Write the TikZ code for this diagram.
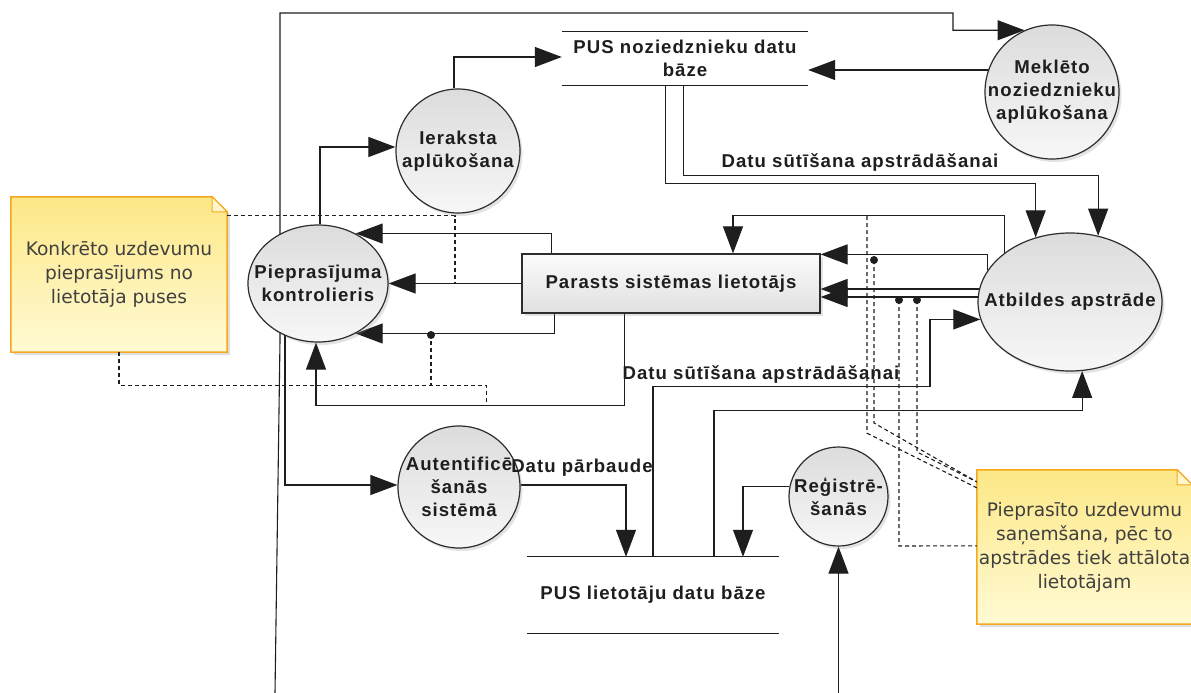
\documentclass[tikz,border=0pt]{standalone}
\usepackage{fontspec}
\usetikzlibrary{arrows.meta,calc,shadows,shapes.geometric}
\newfontfamily\lblfont[LetterSpace=5.5]{Liberation Sans}
\newfontfamily\notefont{DejaVu Sans}
\pgfdeclarelayer{bg}
\pgfsetlayers{bg,main}
\definecolor{ink}{RGB}{30,30,30}
\definecolor{edge}{RGB}{45,45,45}
\definecolor{procTop}{RGB}{220,220,220}
\definecolor{procBot}{RGB}{247,247,247}
\definecolor{noteTop}{RGB}{253,232,135}
\definecolor{noteMid}{RGB}{255,222,70}
\definecolor{noteBot}{RGB}{255,250,212}
\definecolor{noteEdge}{RGB}{245,168,30}
\definecolor{foldc}{RGB}{255,246,205}
\tikzset{
  lbl/.style={font=\lblfont\bfseries\fontsize{18.6}{23}\selectfont, text=ink, align=center},
  proc/.style={circle, draw=edge, line width=1.2pt, top color=procTop, bottom color=procBot,
    drop shadow={shadow xshift=2.5pt, shadow yshift=-3pt, opacity=.22}, inner sep=0pt},
  eproc/.style={ellipse, draw=edge, line width=1.2pt, top color=procTop, bottom color=procBot,
    drop shadow={shadow xshift=2.5pt, shadow yshift=-3pt, opacity=.22}, inner sep=0pt},
  entity/.style={rectangle, draw=edge, line width=1.2pt, top color=gray!3, bottom color=gray!24,
    drop shadow={shadow xshift=2.5pt, shadow yshift=-3pt, opacity=.22}, lbl},
  store/.style={rectangle, inner sep=0pt, lbl},
  storeline/.style={draw=ink, line width=1.1pt},
  flow/.style={draw=ink, line width=1.1pt, -{Triangle[length=27pt,width=20pt]}},
  flowlbl/.style={lbl, inner sep=0pt},
  link/.style={draw=ink, line width=1.1pt, dash pattern=on 4pt off 3pt},
  notetxt/.style={font=\notefont\fontsize{18.6}{24}\selectfont, text=ink!85, align=center, inner sep=0pt},
  notebody/.style={draw=noteEdge, line width=1.5pt, top color=noteTop, middle color=noteMid, bottom color=noteBot,
    drop shadow={shadow xshift=3pt, shadow yshift=-3pt, opacity=.25}},
  foldbody/.style={fill=foldc, draw=noteEdge, line width=1pt},
  dotmark/.style={circle, fill=ink, inner sep=0pt, minimum size=8pt}
}
\begin{document}
\begin{tikzpicture}[x=1pt,y=-1pt]
\useasboundingbox (0,0) rectangle (1191,693);

% ---- nodes ----
\node[store, minimum width=246, minimum height=53] (pusn) at (685,58.5) {PUS noziedznieku datu\\bāze};
\node[store, minimum width=252, minimum height=76] (pusl) at (653,595) {PUS lietotāju datu bāze};
\draw[storeline] (pusn.north west) -- (pusn.north east) (pusn.south west) -- (pusn.south east);
\draw[storeline] (pusl.north west) -- (pusl.north east) (pusl.south west) -- (pusl.south east);

\node[proc, minimum size=134, label={[lbl]center:{Meklēto\\noziedznieku\\aplūkošana}}] (meklet) at (1052,92) {};
\node[proc, minimum size=124, label={[lbl]center:{Ieraksta\\aplūkošana}}] (ieraksta) at (458,151) {};
\node[eproc, minimum width=140, minimum height=117, label={[lbl]center:{Pieprasījuma\\kontrolieris}}] (ctrl) at (318,283.5) {};
\node[entity, minimum width=298, minimum height=59] (parasts) at (671,283.5) {Parasts sistēmas lietotājs};
\node[eproc, minimum width=184, minimum height=138, label={[lbl]center:{Atbildes apstrāde}}] (atbildes) at (1070,302) {};
\node[proc, minimum size=122, label={[lbl]center:{Autentificē\\šanās\\sistēmā}}] (autent) at (459,487) {};
\node[proc, minimum size=99, label={[lbl]center:{Reģistrē-\\šanās}}] (regis) at (838.5,496.5) {};

\node[notetxt, minimum width=216, minimum height=155] (note1) at (119,274.5) {Konkrēto uzdevumu\\pieprasījums no\\lietotāja puses};
\node[notetxt, minimum width=215, minimum height=154] (note2) at (1084.5,547) {Pieprasīto uzdevumu\\saņemšana, pēc to\\apstrādes tiek attālota\\lietotājam};

\node[flowlbl] (lbl1) at (860,162) {Datu sūtīšana apstrādāšanai};
\node[flowlbl] (lbl2) at (761,374) {Datu sūtīšana apstrādāšanai};
\node[flowlbl] (lbl3) at (582,468) {Datu pārbaude};

\node[dotmark] (d1) at (431,335) {};
\node[dotmark] (d2) at (874,260) {};
\node[dotmark] (d3) at (899,300) {};
\node[dotmark] (d4) at (917,300) {};

\coordinate (msrc) at (275,693);
\coordinate (rsrc) at (838.5,693);
\coordinate (r0) at (867,216.2);
\coordinate (m1) at ($(ctrl.east)!0.5!(parasts.west)$);

\begin{pgfonlayer}{bg}
\fill[white] (0,0) rectangle (1191,693);

% note bodies
\path[notebody] (note1.north west) -- ($(note1.north east)+(-15,0)$) -- ($(note1.north east)+(0,15)$) -- (note1.south east) -- (note1.south west) -- cycle;
\path[foldbody] ($(note1.north east)+(-15,0)$) -- ($(note1.north east)+(-15,15)$) -- ($(note1.north east)+(0,15)$) -- cycle;
\path[notebody] (note2.north west) -- ($(note2.north east)+(-15,0)$) -- ($(note2.north east)+(0,15)$) -- (note2.south east) -- (note2.south west) -- cycle;
\path[foldbody] ($(note2.north east)+(-15,0)$) -- ($(note2.north east)+(-15,15)$) -- ($(note2.north east)+(0,15)$) -- cycle;

% flows
\draw[flow] (msrc) -- ++(5,-353) -- ++(0,-327) -- ++(673,0) |- (meklet.114.4);
\draw[flow] ($(meklet.center)+(0,-22)$) -- ($(pusn.east)+(0,11.5)$);
\draw[flow] ($(ieraksta.north)+(-4,0)$) |- ($(pusn.west)+(0,-1.5)$);
\draw[flow] ($(ctrl.north)+(2,0)$) |- ($(ieraksta.west)+(0,-4)$);
\draw[flow] ($(pusn.south west)+(104,0)$) -- ++(0,98) -| (atbildes.118.8);
\draw[flow] ($(pusn.south west)+(122,0)$) -- ++(0,90) -| (atbildes.67.7);
\draw[flow] (atbildes.143.1) -- ++(0,-37) -| ($(parasts.north)+(62,0)$);
\draw[flow] (atbildes.159.3) |- ($(parasts.north east)+(0,1)$);
\draw[flow] ($(atbildes.west)+(3,-13)$) -- ($(parasts.east)+(0,5.5)$);
\draw[flow] ($(atbildes.west)+(3,-5)$) -- ($(parasts.east)+(0,13.5)$);
\draw[flow] (pusl.north) -- ++(0,-170) -- ++(277,0) |- (atbildes.191.5);
\draw[flow] ($(pusl.north)+(61,0)$) -- ++(0,-146) -| (atbildes.-80);
\draw[flow] ($(parasts.north west)+(30,0)$) |- (ctrl.53);
\draw[flow] (parasts.west) -- (ctrl.east);
\draw[flow] ($(parasts.south west)+(33,0)$) |- (ctrl.-53);
\draw[flow] ($(parasts.south west)+(103,0)$) -- ++(0,92) -| ($(ctrl.south)+(-2,0)$);
\draw[flow] ($(ctrl.center)+(-33,0)$) |- ($(autent.west)+(0,-2)$);
\draw[flow] ($(autent.east)+(0,-2)$) -| ($(pusl.north)+(-27,0)$);
\draw[flow] ($(regis.west)+(1,-10)$) -| ($(pusl.north)+(90,0)$);
\draw[flow] (rsrc) -- (regis.south);

% note links
\draw[link] ($(note1.north east)+(0,19)$) -| (m1);
\draw[link] (note1.south) -- ++(0,33) -| (d1.center);
\draw[link] (note1.south) -- ++(0,33) -| ($(parasts.south west)+(-35,92)$);
\draw[link] (r0) -- ++(0,217) -- ($(note2.north west)+(0,18)$);
\draw[link] (d2.center) -- ++(0,163) -- ($(note2.north west)+(0,12)$);
\draw[link] (d3.center) -- ++(0,246) -- ($(note2.north west)+(0,76)$);
\draw[link] (d4.center) -- ++(0,152) -- ($(note2.north west)+(0,12)$);
\end{pgfonlayer}
\end{tikzpicture}
\end{document}
